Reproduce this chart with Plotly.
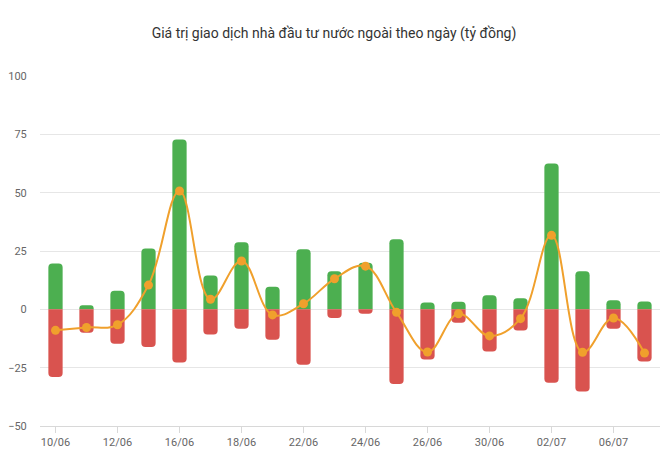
import plotly.graph_objects as go

dates = ["10/06", "11/06", "12/06", "15/06", "16/06", "17/06", "18/06", "19/06",
         "22/06", "23/06", "24/06", "25/06", "26/06", "29/06", "30/06", "01/07",
         "02/07", "03/07", "06/07", "07/07"]
buy = [19.6, 1.7, 8.0, 26.1, 72.8, 14.5, 28.7, 9.7, 25.7, 16.3,
       20.0, 30.0, 2.9, 3.3, 6.0, 4.7, 62.5, 16.3, 3.9, 3.4]
sell = [-29.0, -10.0, -14.7, -16.1, -22.8, -10.8, -8.3, -13.0, -23.8, -3.7,
        -1.9, -32.0, -21.5, -5.7, -18.1, -9.1, -31.5, -35.2, -8.3, -22.4]
net = [-9.0, -7.8, -6.6, 10.4, 50.7, 4.3, 20.7, -2.4, 2.4, 13.1,
       18.5, -1.3, -18.3, -1.9, -11.4, -4.0, 31.7, -18.4, -3.7, -18.7]
tick_labels = dates[::2]
y_ticks = [-50, -25, 0, 25, 50, 75, 100]

fig = go.Figure()
fig.add_trace(go.Bar(x=dates, y=buy, marker=dict(color="#4CAF50", line=dict(width=0)),
                     width=0.46, name="Mua"))
fig.add_trace(go.Bar(x=dates, y=sell, marker=dict(color="#D9534F", line=dict(width=0)),
                     width=0.46, name="Bán"))
fig.add_trace(go.Scatter(x=dates, y=net, mode="lines+markers",
                         line=dict(color="#F0A02C", width=2, shape="spline", smoothing=1.1),
                         marker=dict(color="#F0A02C", size=9), name="Ròng"))

fig.update_layout(
    width=668, height=461,
    margin=dict(l=40, r=8, t=76, b=35, autoexpand=False),
    paper_bgcolor="white", plot_bgcolor="white",
    barmode="relative", barcornerradius=4,
    showlegend=False,
    font=dict(family="Roboto, Arial, sans-serif", size=11, color="#666666"),
    title=dict(text="Giá trị giao dịch nhà đầu tư nước ngoài theo ngày (tỷ đồng)",
               x=0.5, xanchor="center", y=0.928, yanchor="middle",
               font=dict(size=14, color="#333333")),
    hovermode=False,
)
fig.update_xaxes(
    type="category", range=[-0.5, len(dates) - 0.5],
    tickmode="array", tickvals=tick_labels, ticktext=tick_labels,
    showgrid=False, showline=True, linecolor="#d8d8d8", linewidth=1,
    ticks="outside", ticklen=6, tickcolor="#d8d8d8",
    tickfont=dict(size=11, color="#666666"), fixedrange=True, automargin=False,
)
fig.update_yaxes(
    range=[-50, 100], tickmode="array", tickvals=y_ticks,
    showgrid=True, gridcolor="#e6e6e6", gridwidth=1,
    zeroline=True, zerolinecolor="#e6e6e6", zerolinewidth=1,
    showline=False, ticks="outside", ticklen=10, tickcolor="rgba(0,0,0,0)",
    tickfont=dict(size=11, color="#666666"), fixedrange=True, automargin=False,
)

fig.write_html("out.html")
